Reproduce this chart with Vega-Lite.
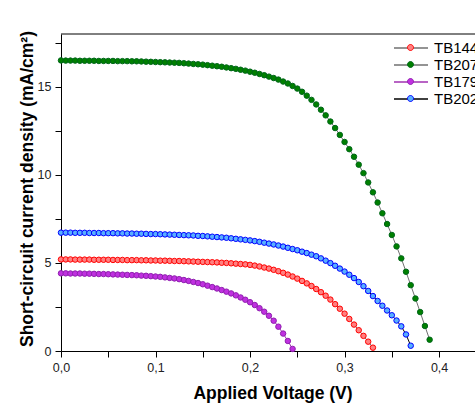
{
  "$schema": "https://vega.github.io/schema/vega-lite/v6.json",
  "width": 414,
  "height": 317,
  "autosize": {"type": "none"},
  "padding": {"left": 61, "top": 34, "right": 0, "bottom": 52},
  "background": "white",
  "config": {
    "view": {"stroke": null},
    "font": "Liberation Sans",
    "axis": {
      "grid": false,
      "domainColor": "black",
      "domainWidth": 1,
      "tickColor": "black",
      "tickWidth": 1,
      "labelFont": "Liberation Sans",
      "labelFontSize": 12.5,
      "labelColor": "#222222",
      "titleFont": "Liberation Sans",
      "titleFontSize": 17.5,
      "titleFontWeight": "bold",
      "titleColor": "black"
    },
    "legend": {"labelFont": "Liberation Sans"}
  },
  "data": {
    "values": [
      {"sample": "TB144", "V": 0, "J": 5.20}, {"sample": "TB144", "V": 0.005, "J": 5.20}, {"sample": "TB144", "V": 0.01, "J": 5.20}, {"sample": "TB144", "V": 0.015, "J": 5.19}, {"sample": "TB144", "V": 0.02, "J": 5.19}, {"sample": "TB144", "V": 0.025, "J": 5.19}, {"sample": "TB144", "V": 0.03, "J": 5.19}, {"sample": "TB144", "V": 0.035, "J": 5.18}, {"sample": "TB144", "V": 0.04, "J": 5.18}, {"sample": "TB144", "V": 0.045, "J": 5.18}, {"sample": "TB144", "V": 0.05, "J": 5.18}, {"sample": "TB144", "V": 0.055, "J": 5.17}, {"sample": "TB144", "V": 0.06, "J": 5.17}, {"sample": "TB144", "V": 0.065, "J": 5.17}, {"sample": "TB144", "V": 0.07, "J": 5.16}, {"sample": "TB144", "V": 0.075, "J": 5.16}, {"sample": "TB144", "V": 0.08, "J": 5.16}, {"sample": "TB144", "V": 0.085, "J": 5.15}, {"sample": "TB144", "V": 0.09, "J": 5.15}, {"sample": "TB144", "V": 0.095, "J": 5.14}, {"sample": "TB144", "V": 0.1, "J": 5.14}, {"sample": "TB144", "V": 0.105, "J": 5.13}, {"sample": "TB144", "V": 0.11, "J": 5.13}, {"sample": "TB144", "V": 0.115, "J": 5.12}, {"sample": "TB144", "V": 0.12, "J": 5.11}, {"sample": "TB144", "V": 0.125, "J": 5.11}, {"sample": "TB144", "V": 0.13, "J": 5.10}, {"sample": "TB144", "V": 0.135, "J": 5.09}, {"sample": "TB144", "V": 0.14, "J": 5.08}, {"sample": "TB144", "V": 0.145, "J": 5.07}, {"sample": "TB144", "V": 0.15, "J": 5.06}, {"sample": "TB144", "V": 0.155, "J": 5.05}, {"sample": "TB144", "V": 0.16, "J": 5.04}, {"sample": "TB144", "V": 0.165, "J": 5.03}, {"sample": "TB144", "V": 0.17, "J": 5.01}, {"sample": "TB144", "V": 0.175, "J": 5.00}, {"sample": "TB144", "V": 0.18, "J": 4.98}, {"sample": "TB144", "V": 0.185, "J": 4.96}, {"sample": "TB144", "V": 0.19, "J": 4.94}, {"sample": "TB144", "V": 0.195, "J": 4.92}, {"sample": "TB144", "V": 0.2, "J": 4.89}, {"sample": "TB144", "V": 0.205, "J": 4.85}, {"sample": "TB144", "V": 0.21, "J": 4.80}, {"sample": "TB144", "V": 0.215, "J": 4.74}, {"sample": "TB144", "V": 0.22, "J": 4.68}, {"sample": "TB144", "V": 0.225, "J": 4.61}, {"sample": "TB144", "V": 0.23, "J": 4.53}, {"sample": "TB144", "V": 0.235, "J": 4.44}, {"sample": "TB144", "V": 0.24, "J": 4.34}, {"sample": "TB144", "V": 0.245, "J": 4.23}, {"sample": "TB144", "V": 0.25, "J": 4.11}, {"sample": "TB144", "V": 0.255, "J": 3.98}, {"sample": "TB144", "V": 0.26, "J": 3.84}, {"sample": "TB144", "V": 0.265, "J": 3.69}, {"sample": "TB144", "V": 0.27, "J": 3.52}, {"sample": "TB144", "V": 0.275, "J": 3.34}, {"sample": "TB144", "V": 0.28, "J": 3.14}, {"sample": "TB144", "V": 0.285, "J": 2.92}, {"sample": "TB144", "V": 0.29, "J": 2.66}, {"sample": "TB144", "V": 0.295, "J": 2.40}, {"sample": "TB144", "V": 0.3, "J": 2.12}, {"sample": "TB144", "V": 0.305, "J": 1.82}, {"sample": "TB144", "V": 0.31, "J": 1.50}, {"sample": "TB144", "V": 0.315, "J": 1.18}, {"sample": "TB144", "V": 0.32, "J": 0.86}, {"sample": "TB144", "V": 0.325, "J": 0.53}, {"sample": "TB144", "V": 0.33, "J": 0.19},
      {"sample": "TB207", "V": 0, "J": 16.50}, {"sample": "TB207", "V": 0.005, "J": 16.49}, {"sample": "TB207", "V": 0.01, "J": 16.49}, {"sample": "TB207", "V": 0.015, "J": 16.49}, {"sample": "TB207", "V": 0.02, "J": 16.48}, {"sample": "TB207", "V": 0.025, "J": 16.48}, {"sample": "TB207", "V": 0.03, "J": 16.48}, {"sample": "TB207", "V": 0.035, "J": 16.48}, {"sample": "TB207", "V": 0.04, "J": 16.47}, {"sample": "TB207", "V": 0.045, "J": 16.47}, {"sample": "TB207", "V": 0.05, "J": 16.47}, {"sample": "TB207", "V": 0.055, "J": 16.47}, {"sample": "TB207", "V": 0.06, "J": 16.46}, {"sample": "TB207", "V": 0.065, "J": 16.46}, {"sample": "TB207", "V": 0.07, "J": 16.46}, {"sample": "TB207", "V": 0.075, "J": 16.45}, {"sample": "TB207", "V": 0.08, "J": 16.45}, {"sample": "TB207", "V": 0.085, "J": 16.44}, {"sample": "TB207", "V": 0.09, "J": 16.43}, {"sample": "TB207", "V": 0.095, "J": 16.42}, {"sample": "TB207", "V": 0.1, "J": 16.41}, {"sample": "TB207", "V": 0.105, "J": 16.40}, {"sample": "TB207", "V": 0.11, "J": 16.39}, {"sample": "TB207", "V": 0.115, "J": 16.38}, {"sample": "TB207", "V": 0.12, "J": 16.37}, {"sample": "TB207", "V": 0.125, "J": 16.36}, {"sample": "TB207", "V": 0.13, "J": 16.34}, {"sample": "TB207", "V": 0.135, "J": 16.32}, {"sample": "TB207", "V": 0.14, "J": 16.30}, {"sample": "TB207", "V": 0.145, "J": 16.28}, {"sample": "TB207", "V": 0.15, "J": 16.26}, {"sample": "TB207", "V": 0.155, "J": 16.23}, {"sample": "TB207", "V": 0.16, "J": 16.20}, {"sample": "TB207", "V": 0.165, "J": 16.17}, {"sample": "TB207", "V": 0.17, "J": 16.14}, {"sample": "TB207", "V": 0.175, "J": 16.10}, {"sample": "TB207", "V": 0.18, "J": 16.06}, {"sample": "TB207", "V": 0.185, "J": 16.02}, {"sample": "TB207", "V": 0.19, "J": 15.97}, {"sample": "TB207", "V": 0.195, "J": 15.92}, {"sample": "TB207", "V": 0.2, "J": 15.86}, {"sample": "TB207", "V": 0.205, "J": 15.80}, {"sample": "TB207", "V": 0.21, "J": 15.73}, {"sample": "TB207", "V": 0.215, "J": 15.66}, {"sample": "TB207", "V": 0.22, "J": 15.58}, {"sample": "TB207", "V": 0.225, "J": 15.50}, {"sample": "TB207", "V": 0.23, "J": 15.41}, {"sample": "TB207", "V": 0.235, "J": 15.30}, {"sample": "TB207", "V": 0.24, "J": 15.19}, {"sample": "TB207", "V": 0.245, "J": 15.05}, {"sample": "TB207", "V": 0.25, "J": 14.90}, {"sample": "TB207", "V": 0.255, "J": 14.72}, {"sample": "TB207", "V": 0.26, "J": 14.50}, {"sample": "TB207", "V": 0.265, "J": 14.26}, {"sample": "TB207", "V": 0.27, "J": 14.00}, {"sample": "TB207", "V": 0.275, "J": 13.70}, {"sample": "TB207", "V": 0.28, "J": 13.38}, {"sample": "TB207", "V": 0.285, "J": 13.03}, {"sample": "TB207", "V": 0.29, "J": 12.66}, {"sample": "TB207", "V": 0.295, "J": 12.27}, {"sample": "TB207", "V": 0.3, "J": 11.87}, {"sample": "TB207", "V": 0.305, "J": 11.46}, {"sample": "TB207", "V": 0.31, "J": 11.03}, {"sample": "TB207", "V": 0.315, "J": 10.58}, {"sample": "TB207", "V": 0.32, "J": 10.10}, {"sample": "TB207", "V": 0.325, "J": 9.57}, {"sample": "TB207", "V": 0.33, "J": 9.01}, {"sample": "TB207", "V": 0.335, "J": 8.43}, {"sample": "TB207", "V": 0.34, "J": 7.82}, {"sample": "TB207", "V": 0.345, "J": 7.21}, {"sample": "TB207", "V": 0.35, "J": 6.59}, {"sample": "TB207", "V": 0.355, "J": 5.94}, {"sample": "TB207", "V": 0.36, "J": 5.26}, {"sample": "TB207", "V": 0.365, "J": 4.50}, {"sample": "TB207", "V": 0.37, "J": 3.74}, {"sample": "TB207", "V": 0.375, "J": 2.98}, {"sample": "TB207", "V": 0.38, "J": 2.21}, {"sample": "TB207", "V": 0.385, "J": 1.42}, {"sample": "TB207", "V": 0.39, "J": 0.64},
      {"sample": "TB179", "V": 0, "J": 4.41}, {"sample": "TB179", "V": 0.005, "J": 4.41}, {"sample": "TB179", "V": 0.01, "J": 4.40}, {"sample": "TB179", "V": 0.015, "J": 4.40}, {"sample": "TB179", "V": 0.02, "J": 4.40}, {"sample": "TB179", "V": 0.025, "J": 4.39}, {"sample": "TB179", "V": 0.03, "J": 4.39}, {"sample": "TB179", "V": 0.035, "J": 4.38}, {"sample": "TB179", "V": 0.04, "J": 4.37}, {"sample": "TB179", "V": 0.045, "J": 4.37}, {"sample": "TB179", "V": 0.05, "J": 4.36}, {"sample": "TB179", "V": 0.055, "J": 4.35}, {"sample": "TB179", "V": 0.06, "J": 4.34}, {"sample": "TB179", "V": 0.065, "J": 4.33}, {"sample": "TB179", "V": 0.07, "J": 4.32}, {"sample": "TB179", "V": 0.075, "J": 4.31}, {"sample": "TB179", "V": 0.08, "J": 4.30}, {"sample": "TB179", "V": 0.085, "J": 4.28}, {"sample": "TB179", "V": 0.09, "J": 4.27}, {"sample": "TB179", "V": 0.095, "J": 4.25}, {"sample": "TB179", "V": 0.1, "J": 4.23}, {"sample": "TB179", "V": 0.105, "J": 4.21}, {"sample": "TB179", "V": 0.11, "J": 4.18}, {"sample": "TB179", "V": 0.115, "J": 4.15}, {"sample": "TB179", "V": 0.12, "J": 4.12}, {"sample": "TB179", "V": 0.125, "J": 4.08}, {"sample": "TB179", "V": 0.13, "J": 4.03}, {"sample": "TB179", "V": 0.135, "J": 3.98}, {"sample": "TB179", "V": 0.14, "J": 3.92}, {"sample": "TB179", "V": 0.145, "J": 3.86}, {"sample": "TB179", "V": 0.15, "J": 3.79}, {"sample": "TB179", "V": 0.155, "J": 3.71}, {"sample": "TB179", "V": 0.16, "J": 3.63}, {"sample": "TB179", "V": 0.165, "J": 3.55}, {"sample": "TB179", "V": 0.17, "J": 3.46}, {"sample": "TB179", "V": 0.175, "J": 3.37}, {"sample": "TB179", "V": 0.18, "J": 3.27}, {"sample": "TB179", "V": 0.185, "J": 3.16}, {"sample": "TB179", "V": 0.19, "J": 3.04}, {"sample": "TB179", "V": 0.195, "J": 2.91}, {"sample": "TB179", "V": 0.2, "J": 2.77}, {"sample": "TB179", "V": 0.205, "J": 2.61}, {"sample": "TB179", "V": 0.21, "J": 2.43}, {"sample": "TB179", "V": 0.215, "J": 2.23}, {"sample": "TB179", "V": 0.22, "J": 2.00}, {"sample": "TB179", "V": 0.225, "J": 1.72}, {"sample": "TB179", "V": 0.23, "J": 1.38}, {"sample": "TB179", "V": 0.235, "J": 0.99}, {"sample": "TB179", "V": 0.24, "J": 0.57}, {"sample": "TB179", "V": 0.245, "J": 0.12},
      {"sample": "TB202", "V": 0, "J": 6.72}, {"sample": "TB202", "V": 0.005, "J": 6.72}, {"sample": "TB202", "V": 0.01, "J": 6.72}, {"sample": "TB202", "V": 0.015, "J": 6.71}, {"sample": "TB202", "V": 0.02, "J": 6.71}, {"sample": "TB202", "V": 0.025, "J": 6.71}, {"sample": "TB202", "V": 0.03, "J": 6.70}, {"sample": "TB202", "V": 0.035, "J": 6.70}, {"sample": "TB202", "V": 0.04, "J": 6.70}, {"sample": "TB202", "V": 0.045, "J": 6.69}, {"sample": "TB202", "V": 0.05, "J": 6.69}, {"sample": "TB202", "V": 0.055, "J": 6.69}, {"sample": "TB202", "V": 0.06, "J": 6.68}, {"sample": "TB202", "V": 0.065, "J": 6.68}, {"sample": "TB202", "V": 0.07, "J": 6.67}, {"sample": "TB202", "V": 0.075, "J": 6.67}, {"sample": "TB202", "V": 0.08, "J": 6.66}, {"sample": "TB202", "V": 0.085, "J": 6.66}, {"sample": "TB202", "V": 0.09, "J": 6.65}, {"sample": "TB202", "V": 0.095, "J": 6.64}, {"sample": "TB202", "V": 0.1, "J": 6.64}, {"sample": "TB202", "V": 0.105, "J": 6.63}, {"sample": "TB202", "V": 0.11, "J": 6.62}, {"sample": "TB202", "V": 0.115, "J": 6.61}, {"sample": "TB202", "V": 0.12, "J": 6.60}, {"sample": "TB202", "V": 0.125, "J": 6.59}, {"sample": "TB202", "V": 0.13, "J": 6.58}, {"sample": "TB202", "V": 0.135, "J": 6.57}, {"sample": "TB202", "V": 0.14, "J": 6.56}, {"sample": "TB202", "V": 0.145, "J": 6.54}, {"sample": "TB202", "V": 0.15, "J": 6.53}, {"sample": "TB202", "V": 0.155, "J": 6.51}, {"sample": "TB202", "V": 0.16, "J": 6.49}, {"sample": "TB202", "V": 0.165, "J": 6.47}, {"sample": "TB202", "V": 0.17, "J": 6.45}, {"sample": "TB202", "V": 0.175, "J": 6.43}, {"sample": "TB202", "V": 0.18, "J": 6.40}, {"sample": "TB202", "V": 0.185, "J": 6.37}, {"sample": "TB202", "V": 0.19, "J": 6.34}, {"sample": "TB202", "V": 0.195, "J": 6.31}, {"sample": "TB202", "V": 0.2, "J": 6.28}, {"sample": "TB202", "V": 0.205, "J": 6.24}, {"sample": "TB202", "V": 0.21, "J": 6.20}, {"sample": "TB202", "V": 0.215, "J": 6.15}, {"sample": "TB202", "V": 0.22, "J": 6.10}, {"sample": "TB202", "V": 0.225, "J": 6.05}, {"sample": "TB202", "V": 0.23, "J": 5.99}, {"sample": "TB202", "V": 0.235, "J": 5.93}, {"sample": "TB202", "V": 0.24, "J": 5.86}, {"sample": "TB202", "V": 0.245, "J": 5.79}, {"sample": "TB202", "V": 0.25, "J": 5.72}, {"sample": "TB202", "V": 0.255, "J": 5.64}, {"sample": "TB202", "V": 0.26, "J": 5.56}, {"sample": "TB202", "V": 0.265, "J": 5.47}, {"sample": "TB202", "V": 0.27, "J": 5.38}, {"sample": "TB202", "V": 0.275, "J": 5.26}, {"sample": "TB202", "V": 0.28, "J": 5.13}, {"sample": "TB202", "V": 0.285, "J": 4.99}, {"sample": "TB202", "V": 0.29, "J": 4.84}, {"sample": "TB202", "V": 0.295, "J": 4.68}, {"sample": "TB202", "V": 0.3, "J": 4.51}, {"sample": "TB202", "V": 0.305, "J": 4.33}, {"sample": "TB202", "V": 0.31, "J": 4.14}, {"sample": "TB202", "V": 0.315, "J": 3.92}, {"sample": "TB202", "V": 0.32, "J": 3.68}, {"sample": "TB202", "V": 0.325, "J": 3.41}, {"sample": "TB202", "V": 0.33, "J": 3.12}, {"sample": "TB202", "V": 0.335, "J": 2.84}, {"sample": "TB202", "V": 0.34, "J": 2.57}, {"sample": "TB202", "V": 0.345, "J": 2.30}, {"sample": "TB202", "V": 0.35, "J": 2.03}, {"sample": "TB202", "V": 0.355, "J": 1.73}, {"sample": "TB202", "V": 0.36, "J": 1.40}, {"sample": "TB202", "V": 0.365, "J": 0.94}, {"sample": "TB202", "V": 0.37, "J": 0.30}
    ]
  },
  "layer": [
    {
      "mark": {"type": "line", "strokeWidth": 1},
      "encoding": {
        "x": {
          "field": "V", "type": "quantitative",
          "scale": {"domain": [0, 0.438], "nice": false, "zero": false},
          "axis": {
            "title": "Applied Voltage (V)",
            "values": [0, 0.05, 0.1, 0.15, 0.2, 0.25, 0.3, 0.35, 0.4],
            "labelExpr": "round(datum.value * 20) % 2 == 0 ? replace(format(datum.value, '.1f'), '.', ',') : ''",
            "tickSize": 6,
            "labelPadding": 4,
            "labelFlush": false,
            "labelOverlap": false,
            "encode": {"ticks": {"update": {"y2": {"signal": "round(datum.value * 20) % 2 == 0 ? 6 : 3.5"}}}},
            "titleX": 211.5,
            "titleY": 47,
            "titleBaseline": "alphabetic",
            "titleAlign": "center"
          }
        },
        "y": {
          "field": "J", "type": "quantitative",
          "scale": {"domain": [0, 18], "nice": false},
          "axis": {
            "title": "Short-circuit current density (mA/cm²)",
            "values": [0, 2.5, 5, 7.5, 10, 12.5, 15, 17.5],
            "labelExpr": "datum.value % 5 == 0 ? format(datum.value, 'd') : ''",
            "tickSize": 6,
            "labelPadding": 4,
            "labelOverlap": false,
            "labelFlush": false,
            "encode": {"ticks": {"update": {"x2": {"signal": "datum.value % 5 == 0 ? -6 : -3.5"}}}},
            "titleAngle": 270,
            "titleBaseline": "alphabetic",
            "titleAlign": "center",
            "titleX": -28.5,
            "titleY": 154.5
          }
        },
        "color": {
          "field": "sample", "type": "nominal",
          "scale": {"domain": ["TB144", "TB207", "TB179", "TB202"], "range": ["#707070", "#707070", "#A030B0", "#000000"]},
          "legend": {
            "title": null, "orient": "none", "legendX": 341, "legendY": 5,
            "symbolType": "M-2.125,0H2.125", "symbolSize": 256, "symbolStrokeWidth": 1.3,
            "labelFontSize": 15, "labelOffset": 14, "labelColor": "black", "rowPadding": 0, "padding": 0
          }
        }
      }
    },
    {
      "mark": {"type": "point", "filled": true, "shape": "circle", "size": 30, "strokeWidth": 1, "opacity": 1},
      "encoding": {
        "x": {"field": "V", "type": "quantitative"},
        "y": {"field": "J", "type": "quantitative"},
        "fill": {
          "field": "sample", "type": "nominal", "sort": null,
          "scale": {"range": ["#FF8080", "#008000", "#C030E0", "#58AFFF"]},
          "legend": {
            "title": null, "orient": "none", "legendX": 341, "legendY": 5,
            "symbolType": "M0.375,0A0.375,0.375,0,1,1,-0.375,0A0.375,0.375,0,1,1,0.375,0Z", "symbolSize": 256, "symbolStrokeWidth": 1,
            "labelFontSize": 15, "labelOffset": 14, "labelOpacity": 0, "rowPadding": 0, "padding": 0
          }
        },
        "stroke": {
          "field": "sample", "type": "nominal", "sort": null,
          "scale": {"range": ["#FF0000", "#00661A", "#8F1FAF", "#0000FF"]},
          "legend": {
            "title": null, "orient": "none", "legendX": 341, "legendY": 5,
            "symbolType": "M0.375,0A0.375,0.375,0,1,1,-0.375,0A0.375,0.375,0,1,1,0.375,0Z", "symbolSize": 256, "symbolStrokeWidth": 1,
            "labelFontSize": 15, "labelOffset": 14, "labelOpacity": 0, "rowPadding": 0, "padding": 0
          }
        }
      }
    },
    {
      "data": {"values": [{"top": 18}]},
      "mark": {"type": "rule", "color": "black", "strokeWidth": 1},
      "encoding": {
        "y": {"field": "top", "type": "quantitative"}
      }
    }
  ]
}
